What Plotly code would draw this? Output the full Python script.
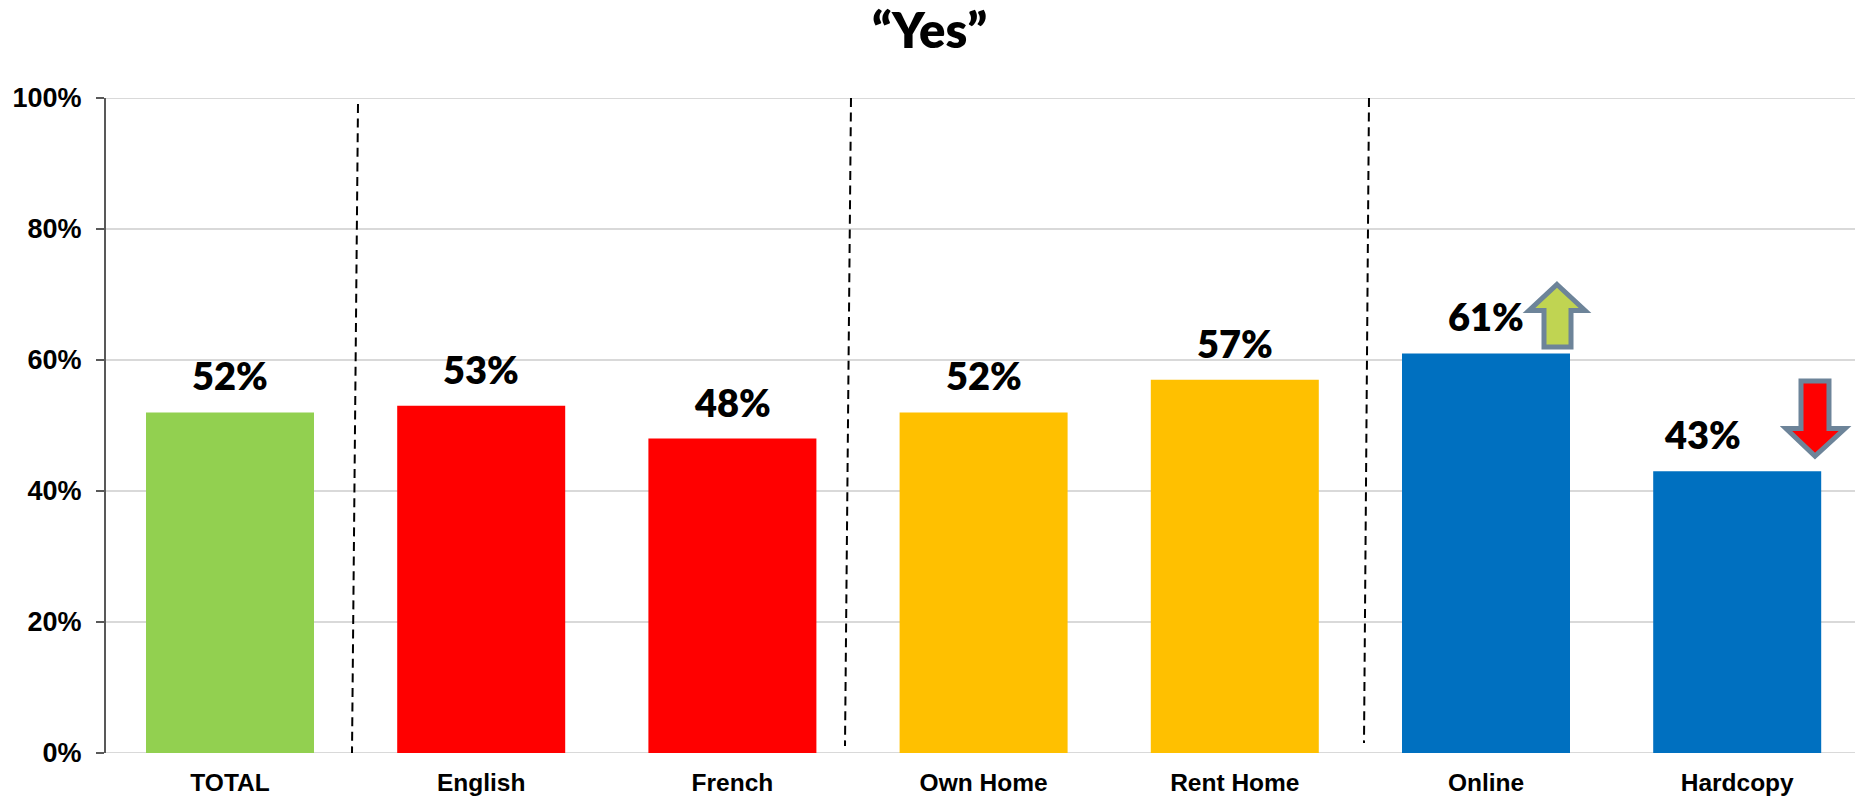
import plotly.graph_objects as go

categories = ["TOTAL", "English", "French", "Own Home", "Rent Home", "Online", "Hardcopy"]
values = [52, 53, 48, 52, 57, 61, 43]
colors = ["#92D050", "#FF0000", "#FF0000", "#FFC000", "#FFC000", "#0070C0", "#0070C0"]
y_ticks = [0, 20, 40, 60, 80, 100]
label_xshift = [0, 0, 0, 0, 0, 0, -35]

ARROW_LINE = "#6D8499"
PLOT_L, PLOT_T, PLOT_B = 106, 98, 46
W, H = 1855, 799
STEP = 251.2
x_min = -(230 - PLOT_L) / STEP
x_max = x_min + (W - PLOT_L) / STEP


def px_x(p):
    return (p - PLOT_L) / STEP + x_min


def px_y(p):
    return (753 - p) / 655 * 100


def poly(points):
    return "M " + " L ".join(f"{px_x(a):.4f},{px_y(b):.3f}" for a, b in points) + " Z"


# Group dividers: slightly slanted dashed lines, (x top, y top, x bottom, y bottom) in image pixels
dividers = [(358, 104, 352, 753), (851, 98, 845, 746), (1369, 98, 1364, 743)]

fig = go.Figure(go.Bar(
    x=categories, y=values, marker=dict(color=colors, line=dict(width=0)),
    width=168 / STEP, hoverinfo="x+y",
))

annotations = [
    dict(x=c, y=v, text=f"{v}%", showarrow=False, xanchor="center", yanchor="bottom",
         yshift=12, xshift=s, font=dict(family="Lato", size=38, weight=800, color="#000000"))
    for c, v, s in zip(categories, values, label_xshift)
]
annotations.append(dict(xref="paper", yref="paper", x=(929 - PLOT_L) / (W - PLOT_L), y=1,
                        yshift=38, text="“Yes”", showarrow=False, xanchor="center",
                        yanchor="bottom", font=dict(family="Lato", size=49, weight=800, color="#000000")))

up = [(1557, 284.5), (1585, 310.5), (1571, 310.5), (1571, 347), (1544, 347), (1544, 310.5), (1529, 310.5)]
down = [(1801, 381), (1829, 381), (1829, 428.5), (1845, 428.5), (1815, 456), (1786, 428.5), (1801, 428.5)]

shapes = [
    dict(type="line", xref="paper", yref="y", x0=0, x1=1, y0=t, y1=t, layer="below",
         line=dict(color="#D9D9D9", width=2))
    for t in (0, 100)
]
shapes += [
    dict(type="line", xref="x", yref="y", x0=px_x(a), y0=px_y(b), x1=px_x(c), y1=px_y(d),
         line=dict(color="#000000", width=2, dash="9px,5.6px"))
    for a, b, c, d in dividers
]
shapes.append(dict(type="path", xref="x", yref="y", path=poly(up), fillcolor="#C0D452",
                   line=dict(color=ARROW_LINE, width=5)))
shapes.append(dict(type="path", xref="x", yref="y", path=poly(down), fillcolor="#FF0000",
                   line=dict(color=ARROW_LINE, width=5)))

fig.update_layout(
    width=W, height=H, margin=dict(l=PLOT_L, r=0, t=PLOT_T, b=PLOT_B),
    paper_bgcolor="white", plot_bgcolor="white", showlegend=False,
    annotations=annotations, shapes=shapes,
    xaxis=dict(type="category", range=[x_min, x_max], showgrid=False, zeroline=False, showline=False,
               ticks="", ticklabelstandoff=12,
               tickfont=dict(family="Liberation Sans", size=24.5, color="#000000", weight="bold"),
               automargin=False),
    yaxis=dict(range=[0, 100], tickvals=y_ticks, ticktext=[f"{t}%" for t in y_ticks],
               showgrid=True, gridcolor="#D9D9D9", gridwidth=2, zeroline=False,
               showline=True, linecolor="#595959", linewidth=2, ticks="outside", ticklen=8,
               tickcolor="#595959", tickwidth=2, ticklabelstandoff=9,
               tickfont=dict(family="Liberation Sans", size=27, color="#000000", weight="bold"),
               automargin=False),
)

fig.write_html("out.html", config=dict(displayModeBar=False),
               post_script="document.body.style.margin='0';document.body.style.overflow='hidden';")
